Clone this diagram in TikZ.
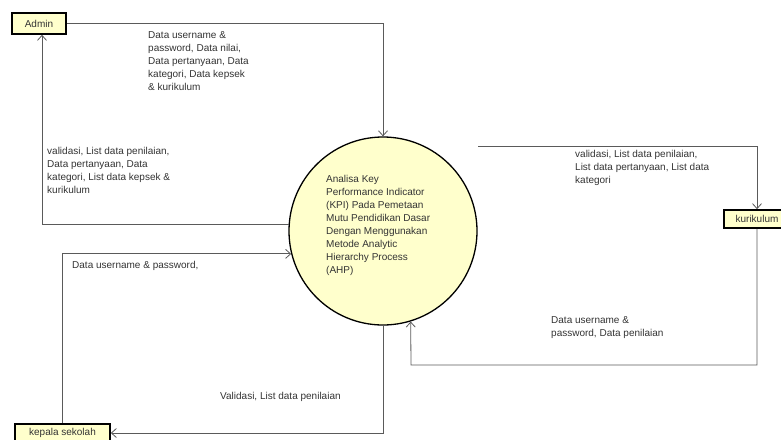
\documentclass[tikz,border=0pt]{standalone}
\usepackage{fontspec}
\setmainfont{Liberation Sans}
\usetikzlibrary{arrows.meta}
\definecolor{kuning}{HTML}{FFFFCC}
\definecolor{garis}{HTML}{5A5A5A}
\definecolor{teks}{HTML}{333333}

\begin{document}
\begin{tikzpicture}[x=1pt,y=-1pt,
        entitas/.style={draw=black,line width=1.6pt,fill=kuning,inner sep=2pt,font=\fontsize{10}{12}\selectfont,text=teks},
        alur/.style={draw=garis,line width=0.8pt,-{Straight Barb[length=5pt,width=9pt]}},
        ket/.style={anchor=north west,inner sep=0pt,align=left,font=\fontsize{10}{13}\selectfont,text=teks}]
        \useasboundingbox (0,0) rectangle (781,439);
        \node[entitas,minimum width=54pt,minimum height=21pt](admin) at (39,23.5) {Admin};
        \node[entitas,minimum width=66pt,minimum height=18pt](kurikulum) at (757,219) {kurikulum};
        \node[entitas,minimum width=95pt,minimum height=18pt](kepsek) at (62.5,433) {kepala sekolah};
        \node[circle,draw=black,line width=1.3pt,fill=kuning,minimum size=188pt](proses) at (383,231) {};
        \node[ket](judul) at (326,175) {Analisa Key\\Performance Indicator\\(KPI) Pada Pemetaan\\Mutu Pendidikan Dasar\\Dengan Menggunakan\\Metode Analytic\\Hierarchy Process\\(AHP)};
        \coordinate(awal) at (478,146);
        \coordinate(belok) at (411,365);
        \draw[alur](admin.east) -| (proses.north);
        \draw[alur](proses.176) -| ([xshift=3pt]admin.south);
        \draw[alur](kepsek.north) |- (proses.194);
        \draw[alur](proses.south) |- (kepsek.east);
        \draw[alur](awal) -| (kurikulum.north);
        \draw[alur](kurikulum.south) |- (belok) -- (proses.287.5);
        \node[ket](l1) at (148,31) {Data username \&\\password, Data nilai,\\Data pertanyaan, Data\\kategori, Data kepsek\\\& kurikulum};
        \node[ket](l2) at (47,147) {validasi, List data penilaian,\\Data pertanyaan, Data\\kategori, List data kepsek \&\\kurikulum};
        \node[ket](l3) at (72,261) {Data username \& password,};
        \node[ket](l4) at (220,392) {Validasi, List data penilaian};
        \node[ket](l5) at (575,150) {validasi, List data penilaian,\\List data pertanyaan, List data\\kategori};
        \node[ket](l6) at (551,316) {Data username \&\\password, Data penilaian};
\end{tikzpicture}
\end{document}
